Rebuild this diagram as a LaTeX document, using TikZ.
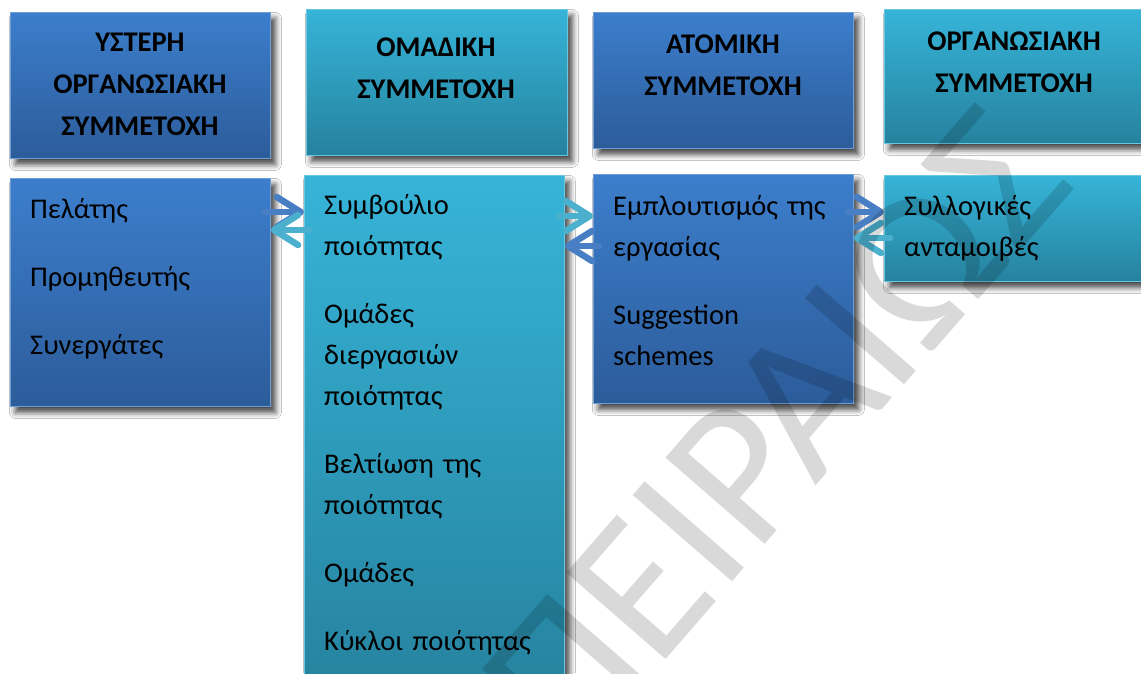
\documentclass[tikz,border=0pt]{standalone}
\usepackage{fontspec}
\setmainfont{Carlito}
\usetikzlibrary{shadows.blur,arrows.meta,calc}

\definecolor{bluetop}{RGB}{60,126,204}
\definecolor{bluebot}{RGB}{44,92,154}
\definecolor{cyantop}{RGB}{54,180,216}
\definecolor{cyanbot}{RGB}{38,130,158}
\definecolor{bluearrow}{RGB}{72,126,196}
\definecolor{cyanarrow}{RGB}{74,176,206}

\tikzset{
  panel/.style={anchor=north west, inner sep=0pt,
    blur shadow={shadow xshift=5pt, shadow yshift=-6pt,
                 shadow blur radius=6pt, shadow opacity=75}},
  bluepanel/.style={panel, top color=bluetop, bottom color=bluebot,
    draw=bluetop!75!white, line width=0.8pt},
  cyanpanel/.style={panel, top color=cyantop, bottom color=cyanbot,
    draw=cyantop!75!white, line width=0.8pt},
  headtxt/.style={anchor=base, inner sep=0pt, text width=250pt, align=center,
    font=\fontsize{28.5}{42}\selectfont\bfseries},
  bodytxt/.style={anchor=base west, inner sep=0pt, text width=240pt, align=left,
    font=\fontsize{28.5}{41}\selectfont},
  flow/.style={line width=6.5pt, line cap=round,
    -{Straight Barb[length=24pt, width=30pt, round]}},
  watermark/.style={font=\fontsize{205}{205}\selectfont, text=black,
    text opacity=0.15, inner sep=0pt}
}

\begin{document}
\begin{tikzpicture}[x=1pt, y=-1pt]
  \useasboundingbox (0,0) rectangle (1141,673);
  \clip (0,0) rectangle (1141,673);
  \fill[white] (0,0) rectangle (1141,673);

  % column headings
  \node[bluepanel, minimum width=260pt, minimum height=146pt] (h1) at (10,12) {};
  \node[cyanpanel, minimum width=261pt, minimum height=146pt] (h2) at (306,9) {};
  \node[bluepanel, minimum width=260pt, minimum height=136pt] (h3) at (593,12) {};
  \node[cyanpanel, minimum width=260pt, minimum height=134pt] (h4) at (884,9) {};

  % column contents
  \node[bluepanel, minimum width=260pt, minimum height=228pt] (c1) at (10,178) {};
  \node[cyanpanel, minimum width=260pt, minimum height=525pt] (c2) at (304,175) {};
  \node[bluepanel, minimum width=260pt, minimum height=229pt] (c3) at (593,174) {};
  \node[cyanpanel, minimum width=260pt, minimum height=106pt] (c4) at (884,175) {};

  % two-way links between neighbouring columns
  \draw[flow, bluearrow] ($(c1.east |- 0,212)+(-6,0)$) -- (c2.west |- 0,212);
  \draw[flow, cyanarrow] ($(c2.west |- 0,230)+(6,0)$) -- (c1.east |- 0,230);
  \draw[flow, cyanarrow] ($(c2.east |- 0,216)+(-6,0)$) -- (c3.west |- 0,216);
  \draw[flow, bluearrow] ($(c3.west |- 0,246)+(6,0)$) -- (c2.east |- 0,246);
  \draw[flow, bluearrow] ($(c3.east |- 0,212)+(-6,0)$) -- (c4.west |- 0,212);
  \draw[flow, cyanarrow] ($(c4.west |- 0,238)+(6,0)$) -- (c3.east |- 0,238);

  % heading texts
  \node[headtxt] (h1t) at (140,51) {ΥΣΤΕΡΗ\\ΟΡΓΑΝΩΣΙΑΚΗ\\ΣΥΜΜΕΤΟΧΗ};
  \node[headtxt] (h2t) at (436,56) {ΟΜΑΔΙΚΗ\\ΣΥΜΜΕΤΟΧΗ};
  \node[headtxt] (h3t) at (723,53) {ΑΤΟΜΙΚΗ\\ΣΥΜΜΕΤΟΧΗ};
  \node[headtxt] (h4t) at (1014,50) {ΟΡΓΑΝΩΣΙΑΚΗ\\ΣΥΜΜΕΤΟΧΗ};

  % content texts
  \node[bodytxt] (c1t) at (30,218) {Πελάτης\\[27pt]Προμηθευτής\\[27pt]Συνεργάτες};
  \node[bodytxt] (c2t) at (324,214) {Συμβούλιο\\ποιότητας\\[27pt]Ομάδες\\διεργασιών\\ποιότητας\\[27pt]Βελτίωση της\\ποιότητας\\[27pt]Ομάδες\\[27pt]Κύκλοι ποιότητας};
  \node[bodytxt] (c3t) at (613,215) {Εμπλουτισμός της\\εργασίας\\[27pt]Suggestion\\schemes};
  \node[bodytxt] (c4t) at (904,215) {Συλλογικές\\ανταμοιβές};

  % diagonal watermark
  \node[watermark, rotate=49] (wm) at (775,432) {ΠΕΙΡΑΙΩΣ};
\end{tikzpicture}
\end{document}
